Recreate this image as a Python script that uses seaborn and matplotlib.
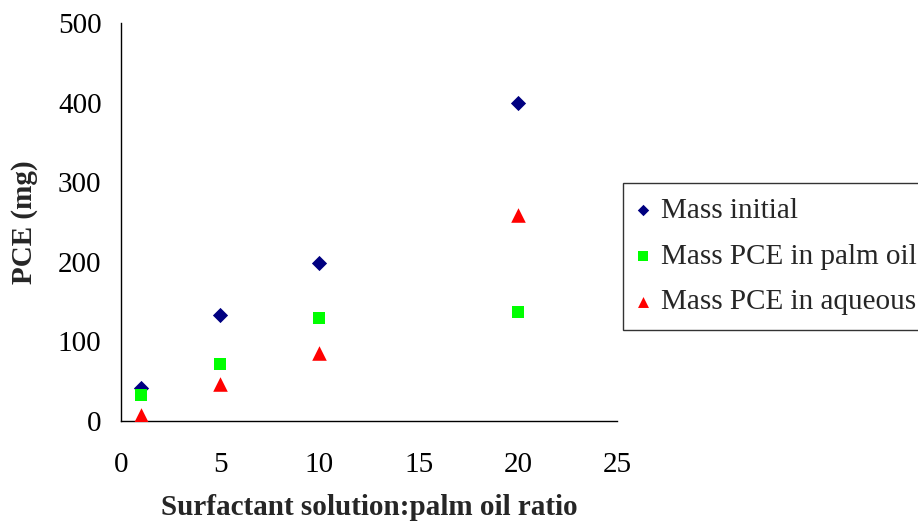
import matplotlib
matplotlib.use("Agg")
import matplotlib.pyplot as plt
import seaborn as sns
import pandas as pd

ratio = [1, 5, 10, 20]
mass_initial = [42, 133, 198, 400]
mass_palm_oil = [33, 71, 129, 137]
mass_aqueous = [7, 47, 85, 259]

series_names = ["Mass initial", "Mass PCE in palm oil", "Mass PCE in aqueous"]
x_ticks = [0, 5, 10, 15, 20, 25]
y_ticks = [0, 100, 200, 300, 400, 500]

sns.set_theme(style="white")
plt.rcParams['font.family'] = ['Liberation Serif', 'DejaVu Serif']

fig = plt.figure(figsize=(9.18, 5.22), dpi=100)
ax = fig.add_axes([121/918, 1 - 421/522, (617 - 121)/918, (421 - 23)/522])

styles = [
    (mass_initial, series_names[0], "D", "#000080", 60),
    (mass_palm_oil, series_names[1], "s", "#00FF00", 75),
    (mass_aqueous, series_names[2], "^", "#FF0000", 110),
]
for vals, name, mk, col, s in styles:
    df = pd.DataFrame({"x": ratio, "y": vals})
    sns.scatterplot(data=df, x="x", y="y", ax=ax, marker=mk, color=col,
                    s=s, linewidth=0, label=name, zorder=3)

FS = 21
ax.set_xlim(0, 25)
ax.set_ylim(0, 500)
ax.set_xticks(x_ticks)
ax.set_yticks(y_ticks)
ax.tick_params(axis="both", which="major", labelsize=FS, length=7, width=1,
               direction="out", color="black", labelcolor="black")
ax.tick_params(axis="x", pad=15)
ax.tick_params(axis="y", pad=7)
for side in ["top", "right"]:
    ax.spines[side].set_visible(False)
for side in ["left", "bottom"]:
    ax.spines[side].set_color("black")
    ax.spines[side].set_linewidth(1)

ax.set_xlabel("Surfactant solution:palm oil ratio", fontsize=FS, fontweight="bold", labelpad=12)
ax.set_ylabel("PCE (mg)", fontsize=FS, fontweight="bold", labelpad=14)
ax.grid(False)

leg = ax.legend(loc="upper left", bbox_to_anchor=(623/918, 1 - 183/522),
                bbox_transform=fig.transFigure, borderaxespad=0, frameon=True,
                fancybox=False, edgecolor="black", fontsize=FS,
                handletextpad=0.4, labelspacing=0.66, borderpad=0.5,
                handlelength=0.4, markerscale=0.75)
leg.get_frame().set_linewidth(1)

fig.savefig("out.png", dpi=100, facecolor="white")
